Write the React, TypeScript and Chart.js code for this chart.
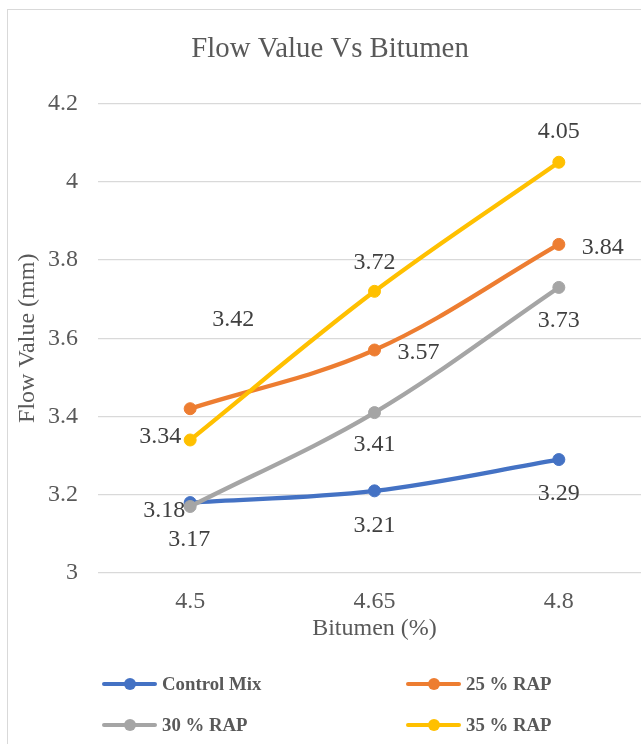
import React, { useEffect, useRef } from "react";
import { Chart, registerables } from "chart.js";

Chart.register(...registerables);

const CATEGORIES = ["4.5", "4.65", "4.8"];
const SERIES_NAMES = ["Control Mix", "25 % RAP", "30 % RAP", "35 % RAP"];
const CONTROL_MIX = [3.18, 3.21, 3.29];
const RAP_25 = [3.42, 3.57, 3.84];
const RAP_30 = [3.17, 3.41, 3.73];
const RAP_35 = [3.34, 3.72, 4.05];
const SERIES_VALUES = [CONTROL_MIX, RAP_25, RAP_30, RAP_35];
const COLORS = ["#4472C4", "#ED7D31", "#A5A5A5", "#FFC000"];
const Y_MIN = 3;
const Y_MAX = 4.2;
const Y_STEP = 0.2;

const TITLE = "Flow Value Vs Bitumen";
const X_TITLE = "Bitumen (%)";
const Y_TITLE = "Flow Value (mm)";

// data label offsets (pixels from the point) per series, per point
const LABEL_OFFSETS: [number, number][][] = [
  [[-26, 8], [0, 35], [0, 34]],
  [[43, -89], [44, 3], [44, 3]],
  [[-1, 33], [0, 32], [0, 33]],
  [[-30, -3], [0, -29], [0, -31]],
];

const SERIF = "'Liberation Serif', 'Times New Roman', serif";

const dataLabelPlugin = {
  id: "dataLabels",
  afterDatasetsDraw(chart: any) {
    const ctx = chart.ctx;
    ctx.save();
    ctx.font = `24px ${SERIF}`;
    ctx.fillStyle = "#404040";
    ctx.textAlign = "center";
    ctx.textBaseline = "middle";
    chart.data.datasets.forEach((ds: any, i: number) => {
      const meta = chart.getDatasetMeta(i);
      meta.data.forEach((pt: any, j: number) => {
        const [dx, dy] = LABEL_OFFSETS[i][j];
        ctx.fillText(String(ds.data[j]), pt.x + dx, pt.y + dy);
      });
    });
    ctx.restore();
  },
};

function ChartCanvas() {
  const ref = useRef<HTMLCanvasElement | null>(null);
  useEffect(() => {
    if (!ref.current) return;
    const chart = new Chart(ref.current, {
      type: "line",
      data: {
        labels: CATEGORIES,
        datasets: SERIES_VALUES.map((vals, i) => ({
          label: SERIES_NAMES[i],
          data: vals,
          borderColor: COLORS[i],
          backgroundColor: COLORS[i],
          pointBackgroundColor: COLORS[i],
          pointBorderColor: COLORS[i],
          borderWidth: 4.3,
          pointRadius: 6,
          pointBorderWidth: 1,
          tension: 0.35,
          order: SERIES_VALUES.length - i,
          clip: false,
        })),
      },
      options: {
        responsive: false,
        animation: false,
        devicePixelRatio: 1,
        layout: { padding: { left: 9, right: 9, top: 0, bottom: 93.8 } },
        plugins: {
          legend: { display: false },
          tooltip: { enabled: false },
          title: {
            display: true,
            text: TITLE,
            color: "#595959",
            font: { family: SERIF, size: 28.8, weight: "normal", lineHeight: 1.2 },
            padding: { top: 32, bottom: 37 },
          },
        },
        scales: {
          x: {
            type: "category",
            offset: true,
            grid: { display: false, drawTicks: false },
            border: { display: false },
            ticks: {
              color: "#595959",
              font: { family: SERIF, size: 24, lineHeight: 1.0 },
              padding: 17,
              maxRotation: 0,
            },
            title: {
              display: true,
              text: X_TITLE,
              color: "#595959",
              font: { family: SERIF, size: 24, lineHeight: 0.8 },
              padding: { top: -12, bottom: 12 },
            },
          },
          y: {
            min: Y_MIN,
            max: Y_MAX,
            afterFit: (scale: any) => {
              scale.width = 89;
            },
            grid: { color: "#D9D9D9", lineWidth: 1.3, drawTicks: false },
            border: { display: false },
            ticks: {
              stepSize: Y_STEP,
              color: "#595959",
              font: { family: SERIF, size: 24 },
              padding: 20,
              callback: (v: any) => String(Number(Number(v).toFixed(1))),
            },
            title: {
              display: true,
              text: Y_TITLE,
              color: "#595959",
              font: { family: SERIF, size: 24, lineHeight: 1.2 },
              padding: { top: 4, bottom: 0 },
            },
          },
        },
      },
      plugins: [dataLabelPlugin],
    });
    return () => chart.destroy();
  }, []);
  return (
    <canvas
      ref={ref}
      width={660}
      height={744}
      style={{ position: "absolute", left: 0, top: 0, width: 660, height: 744 }}
    />
  );
}

function LegendItem({ name, color, left, top }: { name: string; color: string; left: number; top: number }) {
  return (
    <div style={{ position: "absolute", left, top: top - 15, height: 30, display: "flex", alignItems: "center" }}>
      <div style={{ position: "relative", width: 55, height: 30 }}>
        <div style={{ position: "absolute", left: 0, top: 13, width: 55, height: 4, background: color, borderRadius: 2 }} />
        <div style={{ position: "absolute", left: 21.5, top: 9, width: 12, height: 12, background: color, borderRadius: "50%" }} />
      </div>
      <span
        style={{
          marginLeft: 5,
          fontFamily: SERIF,
          fontWeight: "bold",
          fontSize: 18.8,
          color: "#595959",
          whiteSpace: "nowrap",
          lineHeight: "30px",
        }}
      >
        {name}
      </span>
    </div>
  );
}

export default function App() {
  const legendPos = [
    [102, 684],
    [406, 684],
    [102, 725],
    [406, 725],
  ];
  return (
    <div style={{ position: "fixed", left: 0, top: 0, width: 641, height: 744, overflow: "hidden", background: "#fff" }}>
      <div
        style={{
          position: "absolute",
          left: 7,
          top: 9,
          width: 700,
          height: 800,
          border: "1.5px solid #D9D9D9",
          boxSizing: "border-box",
        }}
      />
      <ChartCanvas />
      {SERIES_NAMES.map((n, i) => (
        <LegendItem key={n} name={n} color={COLORS[i]} left={legendPos[i][0]} top={legendPos[i][1]} />
      ))}
    </div>
  );
}
